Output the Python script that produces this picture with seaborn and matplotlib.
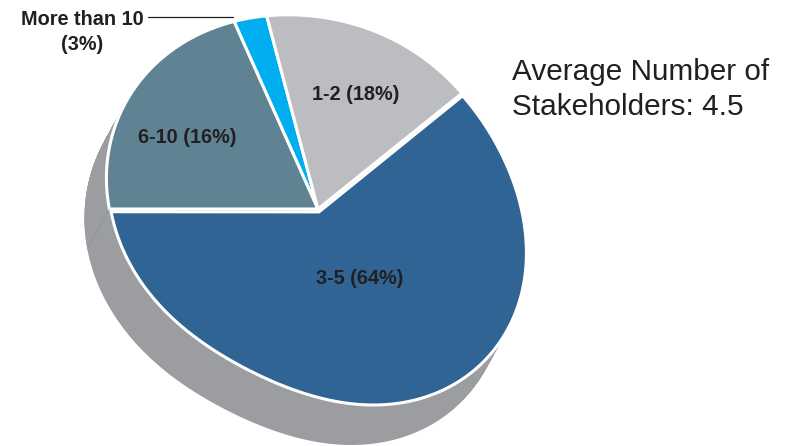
import numpy as np
import matplotlib
matplotlib.use("Agg")
import matplotlib.pyplot as plt
import seaborn as sns
from matplotlib.path import Path
from matplotlib.transforms import Transform, Affine2D

# Survey data: number of stakeholders involved
categories = ["6-10", "More than 10", "1-2", "3-5"]
shares = [16, 3, 18, 64]
average_stakeholders = 4.5

slice_colors = ["#5F8393", "#00AEEF", "#BCBDC0", "#2F6494"]
side_color = "#9C9DA0"
text_color = "#231F20"

# Tilted-disc geometry on the canvas (pixels): apex, slice boundary ends, rim
apex_px = (318, 209)
boundary_px = [(107.5, 209), (234, 21), (267, 17), (461, 94)]
rim_px = [(107, 190), (107, 167), (113, 133), (130, 97), (157, 63), (190, 37),
          (250, 18), (300, 16), (350, 22), (400, 42), (433, 66),
          (490, 131), (510, 172), (522, 217), (525, 255), (507, 323),
          (473, 367), (423, 397), (373, 401), (323, 395), (257, 373),
          (190, 333), (157, 300), (123, 250)]
side_depth = (-22.0, 40.0)
harmonics = 4


def rim_basis(phi):
    phi = np.atleast_1d(phi)
    cols = [np.ones_like(phi)]
    for k in range(1, harmonics + 1):
        cols += [np.cos(k * phi), np.sin(k * phi)]
    return np.stack(cols, axis=1)


class DiscWarp(Transform):
    """Maps the unit pie disc onto a tilted, star-shaped outline around an apex."""
    input_dims = 2
    output_dims = 2
    is_separable = False
    has_inverse = False

    def __init__(self, apex, t_knots, phi_knots, rim_coef):
        super().__init__()
        self.apex = np.asarray(apex, float)
        order = np.argsort(t_knots)
        self.t_knots = np.asarray(t_knots, float)[order]
        self.phi_knots = np.asarray(phi_knots, float)[order]
        self.rim_coef = rim_coef

    def transform_non_affine(self, values):
        v = np.atleast_2d(np.asarray(values, float))
        r = np.hypot(v[:, 0], v[:, 1])
        t = np.arctan2(v[:, 1], v[:, 0])
        phi = np.interp(t, self.t_knots, self.phi_knots)
        rho = rim_basis(phi) @ self.rim_coef
        x = self.apex[0] + r * rho * np.cos(phi)
        y = self.apex[1] - r * rho * np.sin(phi)
        return np.column_stack([x, y])

    def transform_path_non_affine(self, path):
        verts, codes = [], []
        start = None
        for seg, code in path.iter_bezier():
            cp = seg.control_points
            if code == Path.MOVETO:
                start = cp[0]
                verts.append(cp[0])
                codes.append(Path.MOVETO)
            elif code == Path.CLOSEPOLY:
                verts.append(start)
                codes.append(Path.CLOSEPOLY)
            elif code in (Path.CURVE3, Path.CURVE4):
                pts = seg(np.linspace(0, 1, 25)[1:])
                verts.extend(pts)
                codes.extend([Path.LINETO] * len(pts))
            else:
                verts.append(cp[-1])
                codes.append(Path.LINETO)
        return Path(self.transform_non_affine(np.array(verts)), codes)


def polar_px(points):
    p = np.asarray(points, float) - np.asarray(apex_px, float)
    return np.arctan2(-p[:, 1], p[:, 0]), np.hypot(p[:, 0], p[:, 1])


sns.set_theme(style="white")
plt.rcParams["font.family"] = ["Liberation Sans", "DejaVu Sans"]

fig = plt.figure(figsize=(7.92, 4.46), dpi=100)
ax = fig.add_axes([0, 0, 1, 1])

palette = sns.color_palette(slice_colors)
explode = [0, 0, 0, 0.015]
start_angle = 180

# Slice boundary angles (clockwise from the left) and their on-screen directions
frac = np.asarray(shares, float) / np.sum(shares)
bounds = np.deg2rad(start_angle - 360 * np.concatenate([[0], np.cumsum(frac)]))
phi_b, _ = polar_px(boundary_px)
phi_b = np.unwrap(np.append(phi_b, phi_b[0]))
phi_b[-1] = phi_b[0] - 2 * np.pi
phi_b = phi_b - 2 * np.pi * np.round((phi_b[0] - bounds[0]) / (2 * np.pi))

# Smooth rim radius as a function of screen direction
phi_r, rho_r = polar_px(list(boundary_px) + rim_px)
rim_coef = np.linalg.lstsq(rim_basis(phi_r), rho_r, rcond=None)[0]

warp = DiscWarp(apex_px, bounds, phi_b, rim_coef)

# Extruded side of the pie (solid body plus the pulled-out slice)
depth = np.asarray(side_depth)
for s in np.linspace(1, 0, 45):
    shift = Affine2D().translate(*(s * depth))
    for expl in ([0] * len(shares), explode):
        side, _ = ax.pie(shares, explode=expl, startangle=start_angle,
                         counterclock=False, colors=[side_color] * len(shares),
                         wedgeprops=dict(linewidth=0))
        for w in side:
            w.set_transform(warp + shift + ax.transData)

# Faint seam on the side at the left slice boundary
p0 = warp.transform_non_affine([[np.cos(bounds[0]), np.sin(bounds[0])]])[0]
ax.plot([p0[0], p0[0] + depth[0]], [p0[1], p0[1] + depth[1]],
        color="#7F8C96", lw=0.6, alpha=0.6)

# Top face
wedges, _ = ax.pie(shares, explode=explode, startangle=start_angle,
                   counterclock=False, colors=palette,
                   wedgeprops=dict(edgecolor="white", linewidth=2.2))
for w in wedges:
    w.set_transform(warp + ax.transData)

ax.set_aspect("auto")
ax.set_xlim(0, 792)
ax.set_ylim(446, 0)
ax.axis("off")

# Slice labels
label_pos = {"6-10": (187.5, 143), "1-2": (356, 100), "3-5": (360, 284)}
for cat, val in zip(categories, shares):
    if cat in label_pos:
        x, y = label_pos[cat]
        ax.text(x, y, f"{cat} ({val}%)", ha="center", va="baseline",
                fontsize=14.3, fontweight="bold", color=text_color)

# Callout for the small slice
small = categories.index("More than 10")
ax.text(82, 25, categories[small], ha="center", va="baseline",
        fontsize=14.3, fontweight="bold", color=text_color)
ax.text(82, 50, f"({shares[small]}%)", ha="center", va="baseline",
        fontsize=14.3, fontweight="bold", color=text_color)
ax.plot([148, 233], [16.5, 16.5], color=text_color, lw=0.9)

# Average annotation
ax.text(512, 80, "Average Number of", ha="left", va="baseline",
        fontsize=21.4, color=text_color)
ax.text(512, 115, f"Stakeholders: {average_stakeholders}", ha="left",
        va="baseline", fontsize=21.4, color=text_color)

fig.savefig("out.png", dpi=100)
